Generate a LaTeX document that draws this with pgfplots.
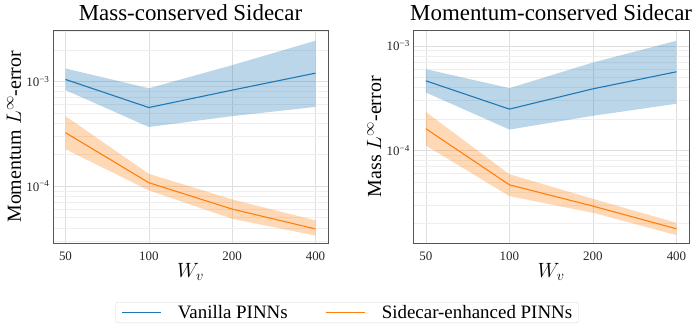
\documentclass[border=0pt]{standalone}
\usepackage{fontspec}
\setmainfont{Liberation Serif}
\usepackage{pgfplots}
\usepackage{pgfplotstable}
\pgfplotsset{compat=1.18}
\usepgfplotslibrary{fillbetween}

\definecolor{tabblue}{HTML}{1F77B4}
\definecolor{taborange}{HTML}{FF7F0E}
\definecolor{framegray}{HTML}{555555}

% x = W_v, mean, lower and upper edge of band
\pgfplotstableread{
x mean lo hi
50 1.045e-3 8.26e-4 1.33e-3
100 5.63e-4 3.67e-4 8.6e-4
200 8.26e-4 4.66e-4 1.43e-3
400 1.2e-3 5.71e-4 2.45e-3
}\massvanilla
\pgfplotstableread{
x mean lo hi
50 3.24e-4 2.25e-4 4.66e-4
100 1.078e-4 9.1e-5 1.31e-4
200 6.03e-5 4.87e-5 7.46e-5
400 3.9e-5 3.37e-5 4.7e-5
}\masssidecar
\pgfplotstableread{
x mean lo hi
50 4.63e-4 3.58e-4 5.99e-4
100 2.48e-4 1.58e-4 3.94e-4
200 3.88e-4 2.14e-4 6.93e-4
400 5.65e-4 2.79e-4 1.12e-3
}\momvanilla
\pgfplotstableread{
x mean lo hi
50 1.61e-4 1.11e-4 2.33e-4
100 4.67e-5 3.64e-5 5.9e-5
200 2.92e-5 2.52e-5 3.43e-5
400 1.77e-5 1.54e-5 2.02e-5
}\momsidecar

\begin{document}
\begin{tikzpicture}

\begin{axis}[at={(0,0)}, anchor=south west,
    scale only axis, width=275bp, height=213.5bp,
    xmode=log, ymode=log, log basis x=2,
    xtick={50,100,200,400}, xticklabels={50,100,200,400},
    enlarge x limits=0.05,
    axis line style={framegray, line width=0.8pt},
    major tick length=0pt, minor tick length=0pt,
    ymajorgrids, yminorgrids, xmajorgrids,
    major grid style={gray!25, line width=0.5pt},
    minor grid style={gray!13, line width=0.4pt},
    tick label style={font=\rmfamily\fontsize{13}{15}\selectfont, text=black!85},
    xticklabel shift=5bp, xlabel shift=-4bp, ylabel shift=-1.5bp,
    label style={font=\rmfamily\fontsize{20}{24}\selectfont},
    title style={font=\rmfamily\fontsize{23}{27}\selectfont},
    xlabel={$W_v$},
    ytick={1e-4,1e-3},
    yticklabels={10\textsuperscript{−4},10\textsuperscript{−3}},
    minor ytick={3e-5,4e-5,5e-5,6e-5,7e-5,8e-5,9e-5,
                 2e-4,3e-4,4e-4,5e-4,6e-4,7e-4,8e-4,9e-4,2e-3,3e-3},
    title={Mass-conserved Sidecar},
    ylabel={Momentum $L^\infty$-error},
    ymin=2.83e-5, ymax=3.1e-3,
    legend style={at={(1.069,-0.274)}, anchor=north, legend columns=2,
      draw=gray!30, rounded corners=2pt, inner xsep=6bp, inner ysep=2bp,
      nodes={inner xsep=0pt, inner ysep=1pt},
      font=\rmfamily\fontsize{19}{22}\selectfont,
      /tikz/every odd column/.append style={column sep=16bp},
      /tikz/every even column/.append style={column sep=38bp}},
    legend image code/.code={\draw[#1] (0bp,0bp) -- (39bp,0bp);},
]
\addplot[draw=none, forget plot, name path=mvu] table[x=x, y=hi] {\massvanilla};
\addplot[draw=none, forget plot, name path=mvl] table[x=x, y=lo] {\massvanilla};
\addplot[fill=tabblue, fill opacity=0.3, draw=none, forget plot] fill between[of=mvu and mvl];
\addplot[draw=none, forget plot, name path=msu] table[x=x, y=hi] {\masssidecar};
\addplot[draw=none, forget plot, name path=msl] table[x=x, y=lo] {\masssidecar};
\addplot[fill=taborange, fill opacity=0.3, draw=none, forget plot] fill between[of=msu and msl];
\addplot[tabblue, line width=1.1pt] table[x=x, y=mean] {\massvanilla};
\addlegendentry{Vanilla PINNs}
\addplot[taborange, line width=1.1pt] table[x=x, y=mean] {\masssidecar};
\addlegendentry{Sidecar-enhanced PINNs}
\end{axis}

\begin{axis}[at={(360.3bp,0)}, anchor=south west,
    scale only axis, width=275.7bp, height=213.5bp,
    xmode=log, ymode=log, log basis x=2,
    xtick={50,100,200,400}, xticklabels={50,100,200,400},
    enlarge x limits=0.05,
    axis line style={framegray, line width=0.8pt},
    major tick length=0pt, minor tick length=0pt,
    ymajorgrids, yminorgrids, xmajorgrids,
    major grid style={gray!25, line width=0.5pt},
    minor grid style={gray!13, line width=0.4pt},
    tick label style={font=\rmfamily\fontsize{13}{15}\selectfont, text=black!85},
    xticklabel shift=5bp, xlabel shift=-4bp, ylabel shift=-1.5bp,
    label style={font=\rmfamily\fontsize{20}{24}\selectfont},
    title style={font=\rmfamily\fontsize{23}{27}\selectfont},
    xlabel={$W_v$},
    ytick={1e-4,1e-3},
    yticklabels={10\textsuperscript{−4},10\textsuperscript{−3}},
    minor ytick={2e-5,3e-5,4e-5,5e-5,6e-5,7e-5,8e-5,9e-5,
                 2e-4,3e-4,4e-4,5e-4,6e-4,7e-4,8e-4,9e-4},
    title={Momentum-conserved Sidecar},
    ylabel={Mass $L^\infty$-error},
    ymin=1.28e-5, ymax=1.42e-3,
]
\addplot[draw=none, forget plot, name path=pvu] table[x=x, y=hi] {\momvanilla};
\addplot[draw=none, forget plot, name path=pvl] table[x=x, y=lo] {\momvanilla};
\addplot[fill=tabblue, fill opacity=0.3, draw=none, forget plot] fill between[of=pvu and pvl];
\addplot[draw=none, forget plot, name path=psu] table[x=x, y=hi] {\momsidecar};
\addplot[draw=none, forget plot, name path=psl] table[x=x, y=lo] {\momsidecar};
\addplot[fill=taborange, fill opacity=0.3, draw=none, forget plot] fill between[of=psu and psl];
\addplot[tabblue, line width=1.1pt] table[x=x, y=mean] {\momvanilla};
\addplot[taborange, line width=1.1pt] table[x=x, y=mean] {\momsidecar};
\end{axis}

\pgfresetboundingbox
\path[use as bounding box] (-53bp,-86.5bp) rectangle (644bp,243.5bp);
\end{tikzpicture}
\end{document}
